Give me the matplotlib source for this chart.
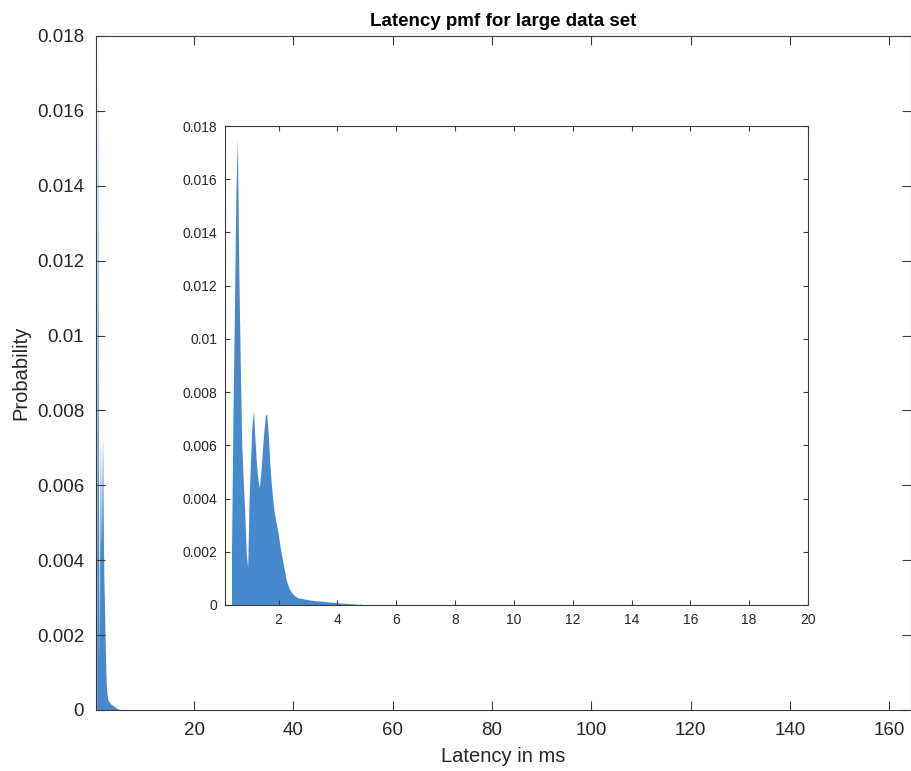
import numpy as np
import matplotlib
matplotlib.use('Agg')
import matplotlib.pyplot as plt

plt.rcParams['font.family'] = ['Liberation Sans', 'DejaVu Sans']

# latency pmf, 0.05 ms bins, first bin centred at 0.40 ms
bin_width = 0.05
first_center = 0.40
pmf = [
    0.0020, 0.0070, 0.0110, 0.0155, 0.0175, 0.0125, 0.0090, 0.0060, 0.0047, 0.0035,   # 0.40 - 0.85
    0.0020, 0.0014, 0.0040, 0.0055, 0.0068, 0.0073, 0.0062, 0.0053, 0.0047, 0.0044,   # 0.90 - 1.35
    0.0050, 0.0058, 0.0065, 0.0071, 0.0072, 0.0064, 0.0054, 0.0046, 0.0040, 0.0035,   # 1.40 - 1.85
    0.0032, 0.0029, 0.0026, 0.0022, 0.0019, 0.0016, 0.0013, 0.0010, 0.0008, 0.00065,  # 1.90 - 2.35
    0.00055, 0.00046, 0.00040, 0.00035, 0.00031, 0.00028, 0.00026, 0.00025, 0.00024, 0.00023,  # 2.40 - 2.85
    0.00022, 0.00021, 0.00020, 0.00019, 0.00018, 0.00018, 0.00017, 0.00016, 0.00016, 0.00015,  # 2.90 - 3.35
    0.00015, 0.00014, 0.00014, 0.00013, 0.00013, 0.00012, 0.00012, 0.00011, 0.00011, 0.00010,  # 3.40 - 3.85
    0.00010, 0.00009, 0.00009, 0.00008, 0.00008, 0.00007, 0.00007, 0.00006, 0.00006, 0.00005,  # 3.90 - 4.35
    0.00005, 0.00005, 0.00004, 0.00004, 0.00004, 0.00003, 0.00003, 0.00003, 0.00003, 0.00002,  # 4.40 - 4.85
    0.00002, 0.00002, 0.00002, 0.00002, 0.000015, 0.000015, 0.00001, 0.00001, 0.00001, 0.00001,  # 4.90 - 5.35
    0.000008, 0.000008, 0.000006, 0.000006, 0.000005, 0.000005, 0.000004, 0.000004, 0.000003, 0.000003,  # 5.40 - 5.85
]
centers = first_center + bin_width * np.arange(len(pmf))

yticks = [0, 0.002, 0.004, 0.006, 0.008, 0.01, 0.012, 0.014, 0.016, 0.018]
ytick_labels = ['0', '0.002', '0.004', '0.006', '0.008', '0.01', '0.012', '0.014', '0.016', '0.018']
main_xticks = [20, 40, 60, 80, 100, 120, 140, 160]
inset_xticks = [2, 4, 6, 8, 10, 12, 14, 16, 18, 20]

bar_color = '#4689cc'
axis_color = '#3c3c3c'
text_color = '#262626'

fig = plt.figure(figsize=(9.11, 7.71), dpi=100)


def style(ax, fs, ticklen, pad):
    for s in ax.spines.values():
        s.set_color(axis_color)
        s.set_linewidth(0.8)
    ax.tick_params(direction='in', top=True, right=True, length=ticklen, width=0.8,
                   color=axis_color, labelcolor=text_color, labelsize=fs, pad=pad)


# main axes
ax = fig.add_axes([96 / 911, 1 - 710 / 771, (911 - 96) / 911, (710 - 36) / 771])
ax.fill_between(centers, pmf, color=bar_color, linewidth=0)
ax.set_xlim(0.26, 164.4)
ax.set_ylim(0, 0.018)
ax.set_xticks(main_xticks)
ax.set_yticks(yticks)
ax.set_yticklabels(ytick_labels)
style(ax, 13.5, 6.5, 8.5)
ax.set_title('Latency pmf for large data set', fontsize=13.5, fontweight='bold', color='black', pad=7)
ax.set_xlabel('Latency in ms', fontsize=14.5, color=text_color, labelpad=6)
ax.set_ylabel('Probability', fontsize=14.5, color=text_color, labelpad=5)

# inset zoom
ins = fig.add_axes([225 / 911, 1 - 605 / 771, (808 - 225) / 911, (605 - 126) / 771])
ins.fill_between(centers, pmf, color=bar_color, linewidth=0)
ins.set_xlim(0.18, 20)
ins.set_ylim(0, 0.018)
ins.set_xticks(inset_xticks)
ins.set_yticks(yticks)
ins.set_yticklabels(ytick_labels)
style(ins, 10, 3.5, 5.5)

fig.savefig('out.png', dpi=100)
